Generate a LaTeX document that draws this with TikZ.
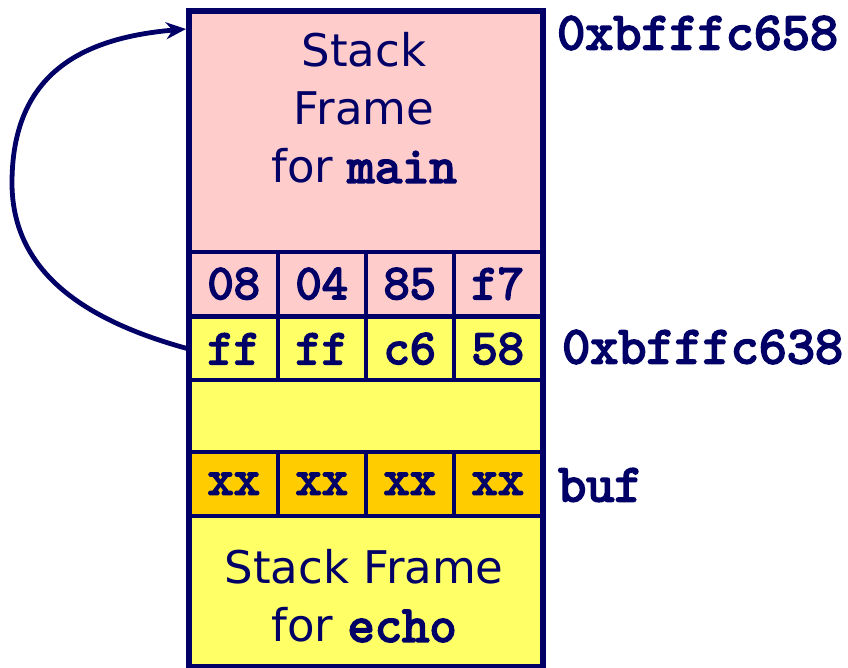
\documentclass[tikz,border=0pt]{standalone}
\usepackage{fontspec}
\setmainfont{DejaVu Sans}
\newfontfamily\codefont[FakeBold=3.5]{lmmono10-regular.otf}
\usetikzlibrary{arrows.meta}
\definecolor{navy}{HTML}{000066}
\definecolor{framepink}{HTML}{FFCCCC}
\definecolor{frameyellow}{HTML}{FFFF66}
\definecolor{bufgold}{HTML}{FFCC00}
\tikzset{
  cell/.style={draw=navy, line width=3.5pt, inner sep=0pt, text=navy,
    minimum width=88pt, minimum height=#1, anchor=north west,
    font=\codefont\fontsize{50}{54}\selectfont},
  cell/.default=64pt,
  pinkcell/.style={cell, fill=framepink},
  yellowcell/.style={cell, fill=frameyellow},
  goldcell/.style={cell, fill=bufgold},
  framebox/.style={draw=navy, line width=3.5pt, inner sep=0pt,
    minimum width=352pt, anchor=north west},
  framelabel/.style={text=navy, align=center, inner sep=0pt,
    font=\fontsize{45}{58}\selectfont},
  addr/.style={anchor=west, text=navy, inner sep=0pt,
    font=\codefont\fontsize{53.5}{56}\selectfont},
  link/.style={draw=navy, line width=4.8pt, -{Stealth[length=20pt,width=17pt]}}
}
\newcommand{\mono}[1]{{\codefont\fontsize{52}{54}\selectfont #1}}
\begin{document}
\begin{tikzpicture}[x=1pt,y=-1pt]
  \useasboundingbox (0,0) rectangle (848,667);
  % stack frame of main
  \node[framebox, fill=framepink, minimum height=240pt] (mainframe) at (188,10) {};
  \node[framelabel] (mainlabel) at (364,108) {Stack\\Frame\\for \mono{main}};
  % saved return address bytes
  \node[pinkcell=65pt] (b1) at (188,250) {08};
  \node[pinkcell=65pt] (b2) at (276,250) {04};
  \node[pinkcell=65pt] (b3) at (364,250) {85};
  \node[pinkcell=65pt] (b4) at (452,250) {f7};
  % saved frame pointer bytes
  \node[yellowcell=63pt] (r1) at (188,315) {ff};
  \node[yellowcell=63pt] (r2) at (276,315) {ff};
  \node[yellowcell=63pt] (r3) at (364,315) {c6};
  \node[yellowcell=63pt] (r4) at (452,315) {58};
  % padding
  \node[framebox, fill=frameyellow, minimum height=72pt] (gap) at (188,378) {};
  % buffer bytes
  \node[goldcell=64pt] (x1) at (188,450) {xx};
  \node[goldcell=64pt] (x2) at (276,450) {xx};
  \node[goldcell=64pt] (x3) at (364,450) {xx};
  \node[goldcell=64pt] (x4) at (452,450) {xx};
  % stack frame of echo
  \node[framebox, fill=frameyellow, minimum height=150pt] (echoframe) at (188,514) {};
  \node[framelabel] (echolabel) at (364,596) {Stack Frame\\for \mono{echo}};
  % outer border
  \draw[navy, line width=5pt] (mainframe.north west) rectangle (echoframe.south east);
  % address labels
  \node[addr] (atop) at (557,33) {0xbfffc658};
  \node[addr] (aebp) at (562,347) {0xbfffc638};
  \node[addr] (abuf) at (558,485) {buf};
  % saved pointer refers back into main's frame
  \coordinate (target) at (186,29);
  \draw[link] (r1.west) .. controls (90,322) and (12,275) .. (12,183)
    .. controls (12,75) and (80,38) .. (target);
\end{tikzpicture}
\end{document}
